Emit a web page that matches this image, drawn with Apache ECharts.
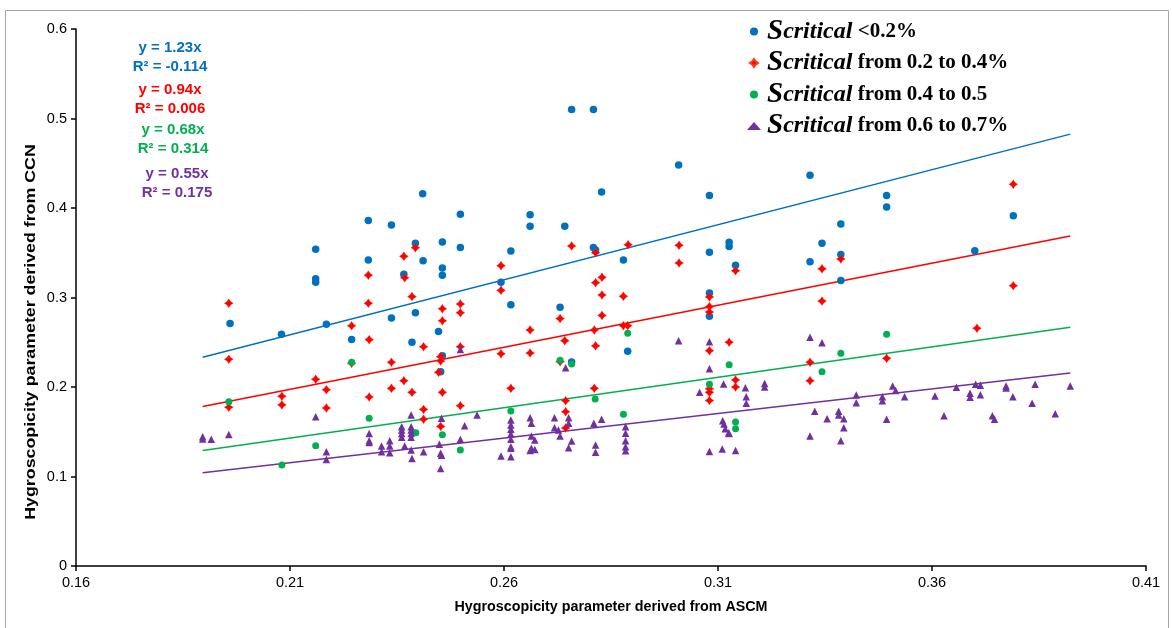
<!DOCTYPE html>
<html>
<head>
<meta charset="utf-8">
<script src="https://cdn.jsdelivr.net/npm/echarts@6/dist/echarts.min.js"></script>
<style>
html,body{margin:0;padding:0;background:#fff;}
#c{width:1172px;height:628px;}
</style>
</head>
<body>
<div id="c"></div>
<script>
// ---- data ----
const seriesNames = ['Scritical <0.2%', 'Scritical from 0.2 to 0.4%', 'Scritical from 0.4 to 0.5', 'Scritical from 0.6 to 0.7%'];
const slopes = [1.23, 0.94, 0.68, 0.55];
const r2Labels = ['-0.114', '0.006', '0.314', '0.175'];
const xTicks = [0.16, 0.21, 0.26, 0.31, 0.36, 0.41];
const xTitle = 'Hygroscopicity parameter derived from ASCM';
const yTitle = 'Hygroscopicity parameter derived from CCN';

const blueData = [
[0.196,0.271],[0.208,0.259],[0.2185,0.270],[0.216,0.354],[0.216,0.321],[0.216,0.317],
[0.2244,0.253],[0.2283,0.386],[0.2283,0.342],[0.2337,0.381],[0.2337,0.277],[0.2393,0.3605],
[0.2411,0.341],[0.2366,0.326],[0.2393,0.283],[0.2385,0.250],[0.2456,0.362],[0.2498,0.393],
[0.2498,0.356],[0.2456,0.333],[0.2456,0.325],[0.2447,0.262],[0.2456,0.235],[0.2452,0.217],
[0.241,0.416],[0.2758,0.510],[0.2809,0.510],[0.3008,0.448],[0.2828,0.418],[0.2661,0.3925],
[0.2661,0.3795],[0.2742,0.3795],[0.2616,0.352],[0.2809,0.356],[0.2814,0.353],[0.2879,0.342],
[0.2593,0.317],[0.2616,0.292],[0.2731,0.289],[0.2889,0.240],[0.2758,0.228],[0.308,0.414],
[0.308,0.3505],[0.308,0.305],[0.308,0.279],[0.3315,0.4365],[0.3494,0.414],[0.3494,0.401],
[0.3387,0.382],[0.3126,0.3617],[0.3126,0.357],[0.3141,0.336],[0.3343,0.3605],[0.3315,0.340],
[0.3387,0.348],[0.3387,0.319],[0.379,0.3914],[0.370,0.3523]
];
const redData = [
[0.1957,0.2935],[0.1957,0.231],[0.1957,0.1773],[0.2081,0.1896],[0.2081,0.180],[0.216,0.2086],
[0.2185,0.197],[0.2185,0.1765],[0.2244,0.2685],[0.2244,0.2265],[0.2283,0.325],[0.2283,0.2935],
[0.2285,0.2529],[0.2285,0.1888],[0.2366,0.346],[0.2393,0.3557],[0.2368,0.322],[0.2385,0.301],
[0.2337,0.2276],[0.2366,0.207],[0.2385,0.194],[0.2337,0.1985],[0.2412,0.245],[0.2412,0.175],
[0.2412,0.164],[0.2456,0.2875],[0.2456,0.274],[0.2498,0.2927],[0.2498,0.283],[0.2498,0.245],
[0.2452,0.2339],[0.2452,0.229],[0.2447,0.2164],[0.2456,0.194],[0.2498,0.179],[0.2452,0.156],
[0.2593,0.3356],[0.2593,0.308],[0.2758,0.3575],[0.2814,0.350],[0.289,0.359],[0.3009,0.3583],
[0.3009,0.3385],[0.2814,0.3166],[0.2829,0.3225],[0.2829,0.3028],[0.2879,0.3013],[0.2829,0.280],
[0.2731,0.2764],[0.2661,0.2637],[0.2742,0.2518],[0.2811,0.2637],[0.2879,0.2685],[0.2889,0.2685],
[0.2814,0.246],[0.2593,0.2372],[0.2661,0.238],[0.2731,0.2283],[0.2616,0.1985],[0.2811,0.1985],
[0.2744,0.1847],[0.2744,0.1724],[0.2744,0.1542],[0.308,0.3006],[0.308,0.2898],[0.308,0.2838],
[0.308,0.2406],[0.308,0.198],[0.308,0.194],[0.308,0.185],[0.3141,0.330],[0.3343,0.332],
[0.3387,0.343],[0.3343,0.296],[0.3126,0.250],[0.3494,0.232],[0.3315,0.2276],[0.3315,0.207],
[0.3141,0.2078],[0.3141,0.200],[0.379,0.4265],[0.379,0.3132],[0.3705,0.2656]
];
const greenData = [
[0.1957,0.1836],[0.2081,0.1128],[0.216,0.1344],[0.2244,0.2276],[0.2285,0.165],[0.2394,0.149],
[0.2456,0.1467],[0.2498,0.1296],[0.2889,0.260],[0.2731,0.230],[0.2758,0.2257],[0.2616,0.1732],
[0.2813,0.1866],[0.2879,0.1695],[0.308,0.203],[0.3494,0.259],[0.3387,0.2376],[0.3343,0.217],
[0.3126,0.225],[0.3141,0.161],[0.3141,0.1534]
];
const purpleData = [
[0.1896,0.1445],[0.1896,0.142],[0.1916,0.1415],[0.1957,0.147],[0.216,0.1668],[0.2185,0.1277],
[0.2185,0.119],[0.2285,0.148],[0.2285,0.140],[0.2285,0.138],[0.2314,0.134],[0.2314,0.1277],
[0.2333,0.140],[0.2333,0.134],[0.2333,0.1266],[0.2361,0.1557],[0.2361,0.152],[0.2361,0.148],
[0.2361,0.1438],[0.2383,0.1557],[0.2383,0.152],[0.2383,0.148],[0.2383,0.1438],[0.2383,0.1687],
[0.2368,0.134],[0.2383,0.1296],[0.2385,0.120],[0.2412,0.1277],[0.2449,0.136],[0.2452,0.126],
[0.2454,0.1237],[0.2452,0.109],[0.2454,0.165],[0.2498,0.242],[0.2498,0.1415],[0.2508,0.1568],
[0.2537,0.1687],[0.2593,0.1229],[0.2616,0.1631],[0.2616,0.1575],[0.2616,0.1527],[0.2616,0.1475],
[0.2616,0.1416],[0.2616,0.1333],[0.2616,0.1315],[0.2616,0.1221],[0.2661,0.1657],[0.2664,0.1594],
[0.2664,0.1453],[0.2672,0.1408],[0.2664,0.1315],[0.2672,0.1303],[0.2661,0.129],[0.2718,0.1657],
[0.2718,0.1545],[0.2727,0.152],[0.2731,0.1453],[0.2751,0.1657],[0.2751,0.1594],[0.2758,0.1397],
[0.2751,0.1322],[0.2744,0.2216],[0.281,0.1594],[0.2828,0.1639],[0.2814,0.1352],[0.2814,0.127],
[0.2884,0.1557],[0.2884,0.1483],[0.2884,0.140],[0.2884,0.1333],[0.2884,0.1288],[0.3008,0.2518],
[0.3057,0.194],[0.308,0.2506],[0.308,0.2205],[0.308,0.128],[0.3315,0.2555],[0.3343,0.2495],
[0.3113,0.2034],[0.3164,0.1993],[0.3166,0.189],[0.3166,0.1818],[0.3209,0.204],[0.3209,0.200],
[0.3111,0.1624],[0.3114,0.1587],[0.3117,0.1534],[0.3125,0.149],[0.3126,0.148],[0.311,0.1307],
[0.3141,0.129],[0.3326,0.173],[0.3315,0.1453],[0.3355,0.1646],[0.3382,0.173],[0.3382,0.1687],
[0.3394,0.1646],[0.3394,0.1545],[0.3387,0.140],[0.3423,0.191],[0.3423,0.1825],[0.3484,0.189],
[0.3484,0.1847],[0.3494,0.164],[0.3508,0.201],[0.3515,0.196],[0.3536,0.189],[0.3607,0.19],
[0.3628,0.168],[0.3657,0.1997],[0.3689,0.193],[0.3689,0.1885],[0.3702,0.203],[0.3713,0.2019],
[0.3713,0.1914],[0.3741,0.168],[0.3746,0.164],[0.3773,0.201],[0.3773,0.199],[0.3789,0.189],
[0.3841,0.203],[0.3834,0.1818],[0.3888,0.170],[0.3923,0.201]
];

// ---- styling ----
const colors = ['#0070C0', '#FF0000', '#00B050', '#7030A0'];
const allData = [blueData, redData, greenData, purpleData];
const starPath = 'path://M0,-10 L4,-4 L10,0 L4,4 L0,10 L-4,4 L-10,0 L-4,-4 Z';
const symbols = ['circle', starPath, 'circle', 'triangle'];
const sizes = [7.5, 9, 7, 7.5];

let xmin = Infinity, xmax = -Infinity;
allData.forEach(d => d.forEach(p => { xmin = Math.min(xmin, p[0]); xmax = Math.max(xmax, p[0]); }));

const series = [];
allData.forEach((d, i) => {
  series.push({
    name: seriesNames[i], type: 'scatter', data: d,
    symbol: symbols[i], symbolSize: sizes[i],
    itemStyle: { color: colors[i], opacity: 1,
      borderColor: i === 1 ? '#FF3B1A' : colors[i], borderWidth: i === 1 ? 0.3 : 0 },
    z: 3
  });
});
slopes.forEach((k, i) => {
  series.push({
    name: 'trend' + i, type: 'line', data: [[xmin, k * xmin], [xmax, k * xmax]],
    symbol: 'none', lineStyle: { color: colors[i], width: 1.5 }, z: 2, silent: true
  });
});

const legendRich = {
  s: { fontFamily: 'Liberation Serif', fontStyle: 'italic', fontWeight: 'bold', fontSize: 29, color: '#000' },
  c: { fontFamily: 'Liberation Serif', fontStyle: 'italic', fontWeight: 'bold', fontSize: 24, color: '#000' },
  n: { fontFamily: 'Liberation Serif', fontWeight: 'bold', fontSize: 21, color: '#000' }
};

const annot = [];
const annotPos = [[170, 47.5, 66.5], [170, 89.5, 108.5], [173, 129.5, 148.5], [177, 174, 192.5]];
slopes.forEach((k, i) => {
  const p = annotPos[i];
  annot.push({ type: 'text', x: p[0], y: p[1], style: { text: 'y = ' + k.toFixed(2) + 'x', fill: colors[i],
    font: 'bold 15px "Liberation Sans", Arial, sans-serif', align: 'center', verticalAlign: 'middle' } });
  annot.push({ type: 'text', x: p[0], y: p[2], style: { text: 'R² = ' + r2Labels[i], fill: colors[i],
    font: 'bold 15px "Liberation Sans", Arial, sans-serif', align: 'center', verticalAlign: 'middle' } });
});
// y-axis title (stretched along its length like the reference)
annot.push({ type: 'text', x: 31.5, y: 332, rotation: Math.PI / 2, scaleX: 1.27, scaleY: 1,
  style: { text: yTitle, fill: '#000', font: 'bold 14px "Liberation Sans", Arial, sans-serif',
    align: 'center', verticalAlign: 'middle' } });
annot.push({ type: 'rect', shape: { x: 5.5, y: 10.5, width: 1163, height: 640 },
  style: { fill: 'none', stroke: '#A6A6A6', lineWidth: 1 }, z: -1 });

const chart = echarts.init(document.getElementById('c'));
chart.setOption({
  animation: false,
  backgroundColor: '#fff',
  grid: { left: 76, right: 26, top: 29, bottom: 62, containLabel: false },
  xAxis: {
    type: 'value', min: 0.16, max: 0.41, interval: 0.05,
    name: xTitle, nameLocation: 'middle', nameGap: 34,
    nameTextStyle: { fontFamily: 'Liberation Sans', fontWeight: 'bold', fontSize: 14.3, color: '#000' },
    axisLine: { lineStyle: { color: '#000', width: 1.5 } },
    axisTick: { show: true, length: 5, lineStyle: { color: '#000', width: 1.5 }, customValues: xTicks },
    axisLabel: { customValues: xTicks, formatter: v => (+v).toFixed(2), fontFamily: 'Liberation Sans', fontSize: 14.5, color: '#000', margin: 9 },
    splitLine: { show: false }
  },
  yAxis: {
    type: 'value', min: 0, max: 0.6, interval: 0.1,
    axisLine: { show: true, lineStyle: { color: '#000', width: 1.5 } },
    axisTick: { show: true, length: 5, lineStyle: { color: '#000', width: 1.5 } },
    axisLabel: { formatter: v => v === 0 ? '0' : (+v).toFixed(1), fontFamily: 'Liberation Sans', fontSize: 14.5, color: '#000', margin: 9 },
    splitLine: { show: false }
  },
  legend: {
    data: seriesNames, orient: 'vertical', left: 742, top: 12, itemGap: 2.5,
    itemWidth: 14, itemHeight: 8, selectedMode: false,
    textStyle: { rich: legendRich, padding: [0, 0, 0, 1] },
    formatter: name => {
      const rest = name.replace('Scritical', '');
      return '{s|S}{c|critical}{n|' + rest + '}';
    }
  },
  graphic: annot,
  series: series
});
</script>
</body>
</html>
